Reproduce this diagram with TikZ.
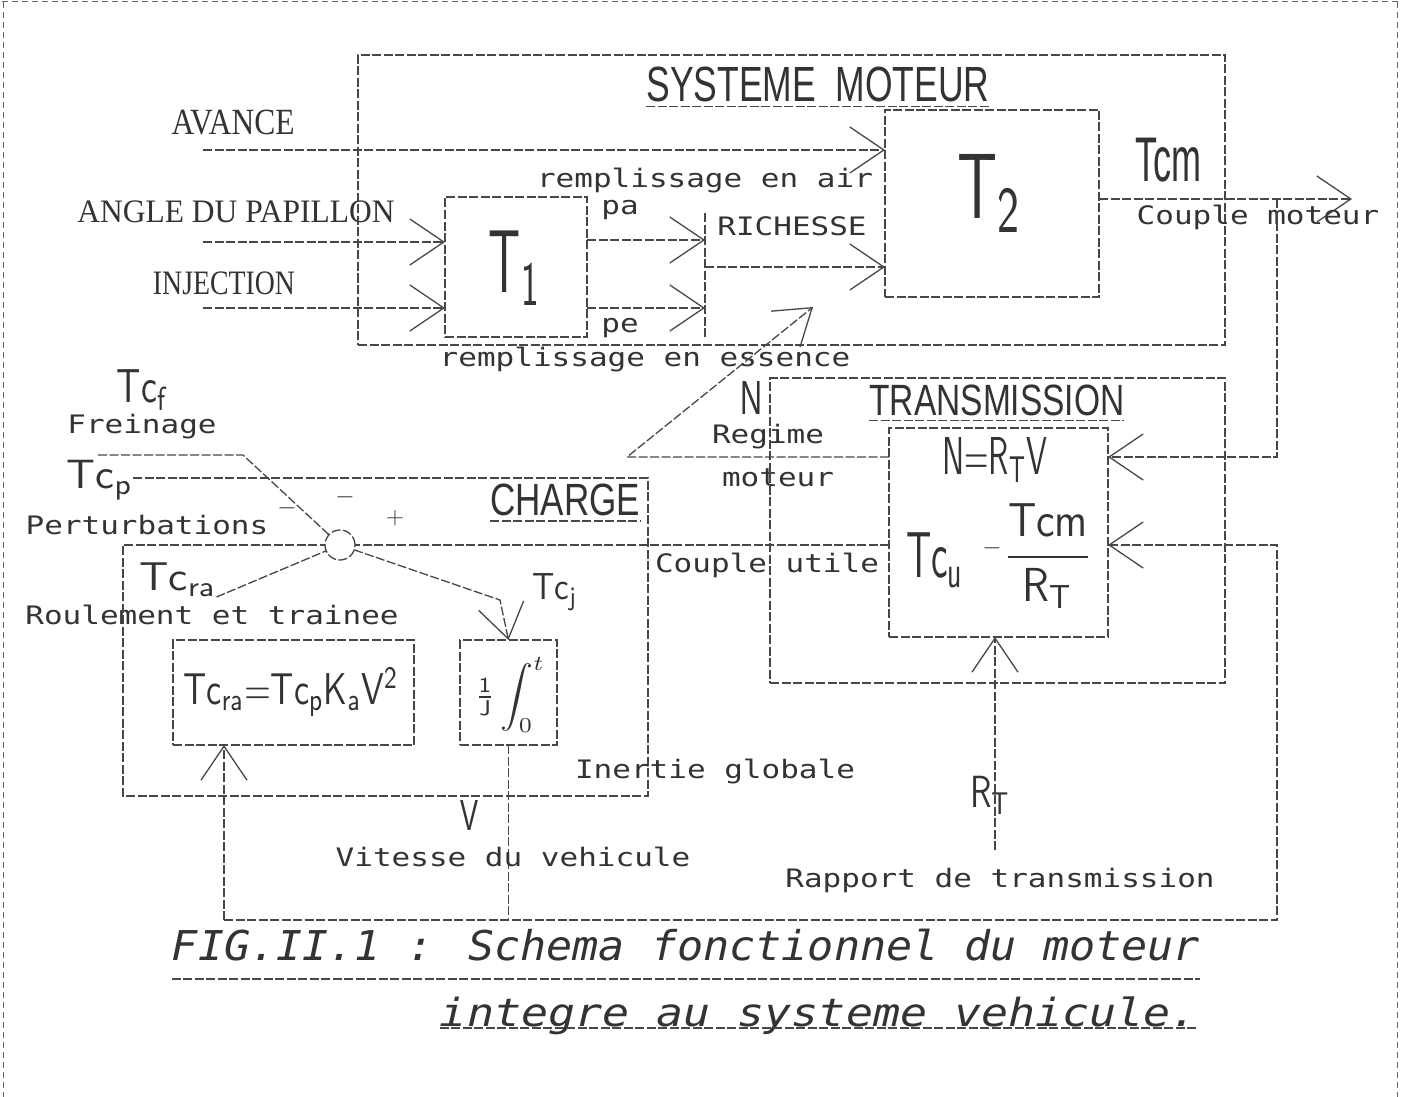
\documentclass[tikz,border=0pt]{standalone}
\usepackage{fontspec}
\setmainfont{Liberation Serif}
\newfontfamily\monof{DejaVu Sans Mono}
\newfontfamily\sansf{Liberation Sans}
\usetikzlibrary{arrows.meta,calc}
\newcommand{\fit}[3]{\resizebox*{#1pt}{#2pt}{#3}}
\newcommand{\mono}[1]{\scalebox{1}[0.82]{\fontsize{31}{31}\selectfont\monof #1}}
\tikzset{
  ln/.style={draw=black!72, line width=1.3pt, dash pattern=on 9pt off 2.5pt},
  arr/.style={ln, -{Straight Barb[length=34pt,width=46pt,line width=1.3pt]}},
  box/.style={ln, rectangle, inner sep=0pt, outer sep=0pt},
  frame/.style={draw=black!60, line width=1pt, dash pattern=on 6pt off 4pt},
}
\begin{document}
\begin{tikzpicture}[x=1pt,y=-1pt, every node/.style={inner sep=0pt, outer sep=0pt, text=black!80}]
\useasboundingbox (0,0) rectangle (1401,1097);
\fill[white] (0,0) rectangle (1401,1097);
% page frame
\draw[frame] (2,2) -- (1399,2);
\draw[frame] (3,2) -- (3,1097);
\draw[frame] (1397,2) -- (1397,1097);

% ===== SYSTEME MOTEUR =====
\node[box, minimum width=867pt, minimum height=290pt] (sys) at (791.5,200) {};
\node (tsys) at (818,84) {\fit{343}{35}{\sansf SYSTEME\ \ MOTEUR}};
\draw[ln] (tsys.south west) ++(0,5) -- ++(343,0);

\node[box, minimum width=142pt, minimum height=140pt] (t1) at (516,267) {};
\node[box, minimum width=214pt, minimum height=187pt] (t2) at (992,203.5) {};
\node (t1l) at (515,268) {\fit{52}{75}{$\mathsf{T_1}$}};
\node (t2l) at (990,193) {\fit{65}{78}{$\mathsf{T_2}$}};

\node (avance) at (233,123) {\fit{123}{25}{AVANCE}};
\coordinate (avin) at (203,150);
\draw[arr] (avin) -- (avin -| t2.west);

\node (angle) at (236,212) {\fit{317}{22}{ANGLE DU PAPILLON}};
\coordinate (angin) at (203,242);
\draw[arr] (angin) -- (angin -| t1.west);

\node (inj) at (224,283) {\fit{142}{23}{INJECTION}};
\coordinate (injin) at (203,308);
\draw[arr] (injin) -- (injin -| t1.west);

\coordinate (busT) at (705,213);
\coordinate (busB) at (705,337);
\draw[ln] (busT) -- (busB);
\draw[arr] (t1.east |- 0,240) -- (busT |- 0,240);
\draw[arr] (t1.east |- 0,308) -- (busT |- 0,308);
\node (pa) at (620,210) {\mono{pa}};
\node (pe) at (620,328) {\mono{pe}};
\node (air) at (705,181) {\mono{remplissage en air}};
\node (rich) at (792,226) {\mono{RICHESSE}};
\draw[arr] (busT |- 0,267) -- (t2.west |- 0,267);
\node (ess) at (645,360) {\mono{remplissage en essence}};

\node (tcm) at (1168,160) {\fit{66}{44}{\sansf Tcm}};
\node (cmot) at (1258,217) {\mono{Couple moteur}};
\coordinate (cmout) at (1352,199);
\draw[arr] (t2.east |- cmout) -- (cmout);
\coordinate (br1) at (1277,199);

% ===== TRANSMISSION =====
\node[box, minimum width=455pt, minimum height=305pt] (trans) at (997.5,530.5) {};
\node (ttrans) at (997,400) {\fit{255}{31}{\sansf TRANSMISSION}};
\draw[ln] (ttrans.south west) ++(0,5) -- ++(255,0);
\node[box, minimum width=219pt, minimum height=209pt] (tin) at (998.5,532.5) {};
\node (nrtv) at (995,460) {\fit{105}{45}{$\mathsf{N{=}R_{T}V}$}};
\node (tcu) at (935,560) {\fit{58}{55}{$\mathsf{Tc_{u}}$}};
\node (minus) at (992,548) {\fontsize{30}{30}\selectfont $-$};
\node (frac) at (1048,556) {\fit{90}{105}{$\displaystyle\mathsf{\frac{Tcm}{R_{T}}}$}};
\draw[arr] (br1) -- (br1 |- 0,457) -- (tin.east |- 0,457);

\coordinate (nk) at (627,457);
\coordinate (ntip) at (813,307);
\draw[arr] (tin.west |- 0,457) -- (nk) -- (ntip);
\node (nlab) at (751,398) {\fit{22}{33}{\sansf N}};
\node (reg) at (768,437) {\mono{Regime}};
\node (mot) at (778,478) {\mono{moteur}};

\coordinate (rtin) at (995,850);
\draw[arr] (rtin) -- (rtin |- tin.south);
\node (rt) at (990,795) {\fit{40}{38}{$\mathsf{R_{T}}$}};
\node (rap) at (1000,880) {\mono{Rapport de transmission}};

% ===== CHARGE =====
\node (tcf) at (142,390) {\fit{50}{40}{$\mathsf{Tc_{f}}$}};
\node (frein) at (142,427) {\mono{Freinage}};
\node (tcp) at (100,480) {\fit{66}{40}{$\mathsf{Tc_{p}}$}};
\node (pert) at (147,525) {\mono{Perturbations}};
\node (tcra) at (178,580) {\fit{77}{34}{$\mathsf{Tc_{ra}}$}};
\node (roul) at (212,615) {\mono{Roulement et trainee}};
\node[ln, circle, minimum size=30pt] (sum) at (340,545) {};
\node (sg1) at (287,508) {\fontsize{26}{26}\selectfont $-$};
\node (sg2) at (345,497) {\fontsize{26}{26}\selectfont $-$};
\node (sg3) at (395,518) {\fontsize{26}{26}\selectfont $+$};

\coordinate (cTR) at (648,478);
\coordinate (cBR) at (648,796);
\coordinate (cBL) at (123,796);
\coordinate (cTL) at (123,545);
\draw[ln] (tcp.east |- cTR) -- (cTR) -- (cBR) -- (cBL) -- (cTL) -- (sum.west);
\node (tcharge) at (565,500) {\fit{150}{32}{\sansf CHARGE}};
\draw[ln] (tcharge.south west) ++(0,5) -- ++(150,0);

\coordinate (fr0) at (98,455);
\coordinate (fr1) at (243,455);
\draw[ln] (fr0) -- (fr1) -- (sum);
\draw[ln] (tcra.south east) -- (sum);
\draw[ln] (tin.west |- sum) -- (sum.east);
\node (cutile) at (767,565) {\mono{Couple utile}};

\node[box, minimum width=241pt, minimum height=105pt] (tcrab) at (293.5,692.5) {};
\node (tcraf) at (291,692) {\fit{215}{50}{$\mathsf{Tc_{ra}{=}Tc_{p}K_{a}V^{2}}$}};
\node[box, minimum width=97pt, minimum height=105pt] (integ) at (508.5,692.5) {};
\node (intf) at (510,695) {\fit{70}{75}{$\mathsf{\frac{1}{J}}\displaystyle\int_{0}^{t}$}};
\coordinate (tj1) at (500,600);
\draw[arr] (sum) -- (tj1) -- (integ.north);
\node (tcj) at (555,592) {\fit{45}{37}{$\mathsf{Tc_{j}}$}};
\node (inert) at (715,771) {\mono{Inertie globale}};

% ===== feedback V =====
\coordinate (fbL) at (224,920);
\coordinate (fbR) at (1277,920);
\draw[ln] (integ.south) -- (integ.south |- fbL);
\draw[arr] (fbL) -- (fbR) -- (fbR |- sum) -- (tin.east |- sum);
\draw[arr] (fbL) -- (fbL |- tcrab.south);
\node (vlab) at (469,815) {\fit{18}{30}{\sansf V}};
\node (vit) at (513,857) {\mono{Vitesse du vehicule}};

% ===== caption =====
\node (cap1) at (686,945) {\fit{1028}{32}{\fontsize{44}{44}\selectfont\monof\itshape FIG.II.1 : Schema fonctionnel du moteur}};
\draw[ln] (cap1.south west) ++(0,18) -- ++(1028,0);
\node (cap2) at (819,1016) {\fit{758}{38}{\fontsize{44}{44}\selectfont\monof\itshape integre au systeme vehicule.}};
\draw[ln] (cap2.south west) ++(0,-7) -- ++(758,0);
\end{tikzpicture}
\end{document}
